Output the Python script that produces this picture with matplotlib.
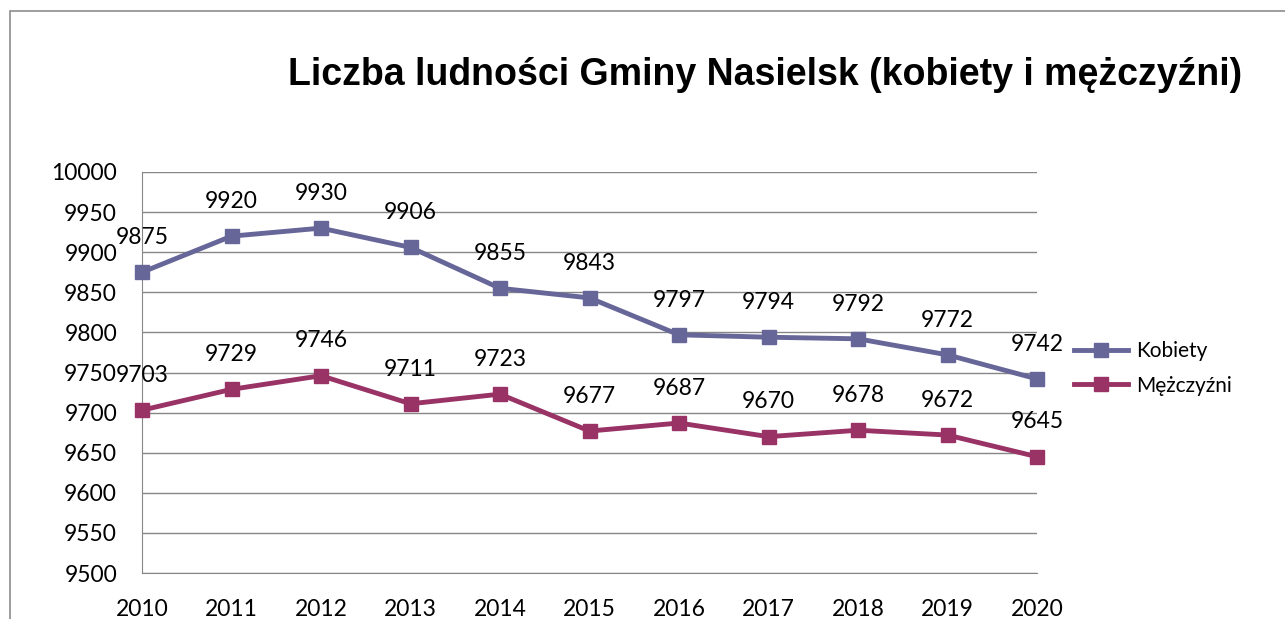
import matplotlib.pyplot as plt
import matplotlib.patches as patches

years = [2010, 2011, 2012, 2013, 2014, 2015, 2016, 2017, 2018, 2019, 2020]
kobiety = [9875, 9920, 9930, 9906, 9855, 9843, 9797, 9794, 9792, 9772, 9742]
mezczyzni = [9703, 9729, 9746, 9711, 9723, 9677, 9687, 9670, 9678, 9672, 9645]
yticks = list(range(9500, 10001, 50))

series = [('Kobiety', kobiety, '#666699'), ('Mężczyźni', mezczyzni, '#993366')]

plt.rcParams['font.family'] = ['Lato', 'DejaVu Sans']

fig = plt.figure(figsize=(12.85, 6.19), dpi=100)
ax = fig.add_axes([142 / 1285, 46 / 619, 895 / 1285, 401 / 619])

# outer chart border (partly off the picture)
fig.add_artist(patches.Rectangle((10 / 1285, -0.1), 1.1, 1.1 - 11 / 619,
                                 transform=fig.transFigure, fill=False,
                                 edgecolor='#8c8c8c', lw=1.2))

for name, vals, col in series:
    ax.plot(years, vals, color=col, lw=3.5, marker='s', markersize=10,
            label=name, clip_on=False, zorder=3)
    for x, v in zip(years, vals):
        ax.annotate(str(v), (x, v), xytext=(0, 25), textcoords='offset points',
                    ha='center', va='center', fontsize=16.5, color='black')

ax.set_xlim(2010, 2020)
ax.set_ylim(9500, 10000)
ax.set_xticks(years)
ax.set_yticks(yticks)
ax.tick_params(axis='both', length=0, labelsize=16.5)
ax.tick_params(axis='x', pad=19)
ax.tick_params(axis='y', pad=18)
ax.grid(axis='y', color='#868686', lw=1)
ax.set_axisbelow(True)
for s in ['top', 'right']:
    ax.spines[s].set_visible(False)
for s in ['left', 'bottom']:
    ax.spines[s].set_color('#868686')

fig.text(765 / 1285, 1 - 75 / 619, 'Liczba ludności Gminy Nasielsk (kobiety i mężczyźni)',
         ha='center', va='center', fontsize=27, fontweight='bold',
         family=['Liberation Sans', 'DejaVu Sans'])

ax.legend(loc='center left', bbox_to_anchor=(1.02, 0.51), frameon=False,
          fontsize=15, handlelength=2.6, handletextpad=0.4, labelspacing=0.7)

fig.savefig('out.png', dpi=100)
